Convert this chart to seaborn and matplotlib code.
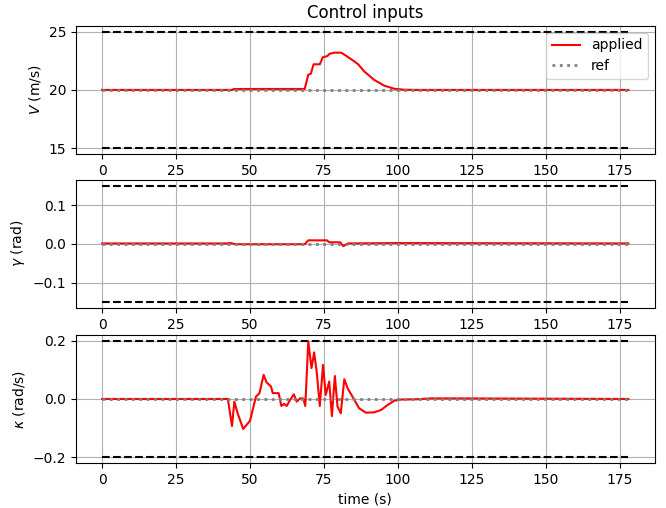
import numpy as np
import matplotlib
matplotlib.use('Agg')
import matplotlib.pyplot as plt
import seaborn as sns

# time span and constraint bounds
T_START, T_END = 0, 178
v_ref, v_min, v_max = 20.0, 15.0, 25.0
g_ref, g_min, g_max = 0.0, -0.15, 0.15
k_ref, k_min, k_max = 0.0, -0.2, 0.2

# applied airspeed V (m/s) at break points
v_t = [0, 44, 44.5, 68.5, 69.7, 70.6, 71.5, 73.6, 74.6, 76.1, 76.9, 78.6, 80.8,
       82.1, 85.3, 86.6, 88.6, 92.0, 95.4, 98.8, 102, 106, 178]
v_val = [20.0, 20.0, 20.08, 20.08, 21.3, 21.4, 22.2, 22.2, 22.8, 22.9, 23.1, 23.2, 23.2,
         23.0, 22.45, 22.2, 21.6, 20.86, 20.37, 20.1, 20.02, 20.0, 20.0]

# applied flight path angle gamma (rad)
g_t = [0, 42, 43.5, 45, 68.5, 69.7, 76.0, 76.8, 80.5, 81.6, 83, 100, 178]
g_val = [0.001, 0.001, 0.002, -0.001, -0.001, 0.009, 0.009, 0.004, 0.004, -0.006,
         0.001, 0.002, 0.001]

# applied curvature rate kappa (rad/s)
k_t = [0, 42.5, 43.9, 44.7, 45.8, 47.7, 50.0, 52.0, 53.2, 54.6, 55.6, 57.1, 57.7,
       59.7, 60.6, 61.5, 62.4, 63.6, 64.8, 65.8, 66.9, 68.0, 68.7, 69.7, 70.8,
       71.7, 72.6, 73.6, 74.7, 75.6, 76.8, 77.7, 78.7, 79.6, 80.7, 81.9, 83.0,
       85.0, 86.9, 89.2, 92.0, 94.3, 96.5, 98.8, 101, 106.6, 111, 119, 150, 178]
k_val = [0.0, 0.0, -0.093, -0.009, -0.049, -0.103, -0.075, 0.008, 0.02, 0.083, 0.057,
         0.043, 0.02, 0.02, -0.024, -0.017, -0.024, -0.003, 0.016, -0.009, 0.002,
         0.002, -0.024, 0.198, 0.106, 0.16, 0.089, -0.024, 0.117, 0.014, 0.06,
         -0.059, 0.079, -0.026, -0.049, 0.068, 0.037, 0.002, -0.032, -0.047, -0.046,
         -0.038, -0.021, -0.006, -0.002, -0.001, 0.002, 0.002, 0.001, 0.0]

panels = [
    (v_t, v_val, v_ref, v_min, v_max, r'$V$ (m/s)', [15, 20, 25]),
    (g_t, g_val, g_ref, g_min, g_max, r'$\gamma$ (rad)', [-0.1, 0.0, 0.1]),
    (k_t, k_val, k_ref, k_min, k_max, r'$\kappa$ (rad/s)', [-0.2, 0.0, 0.2]),
]

fig = plt.figure(figsize=(6.66, 5.08), dpi=100)
bottoms = [0.697, 0.394, 0.0886]
axes = [fig.add_axes([0.114, b, 0.869, 0.252]) for b in bottoms]

span = [T_START, T_END]
for ax, (t, y, ref, lo, hi, ylab, yt) in zip(axes, panels):
    sns.lineplot(x=span, y=[hi, hi], ax=ax, color='black', linestyle='--',
                 linewidth=1.5, estimator=None, legend=False)
    sns.lineplot(x=span, y=[lo, lo], ax=ax, color='black', linestyle='--',
                 linewidth=1.5, estimator=None, legend=False)
    sns.lineplot(x=t, y=y, ax=ax, color='red', linewidth=1.5, estimator=None,
                 sort=False, label='applied')
    sns.lineplot(x=span, y=[ref, ref], ax=ax, color='gray', linestyle=':',
                 linewidth=2, estimator=None, label='ref')
    ax.set_ylabel(ylab)
    ax.set_yticks(yt)
    ax.set_xticks([0, 25, 50, 75, 100, 125, 150, 175])
    ax.grid(True)
    ax.set_xlabel('')
    if ax is not axes[0]:
        ax.get_legend().remove()

axes[0].set_title('Control inputs')
axes[0].legend(loc='upper right')
axes[2].set_xlabel('time (s)')

plt.savefig('out.png', dpi=100)
